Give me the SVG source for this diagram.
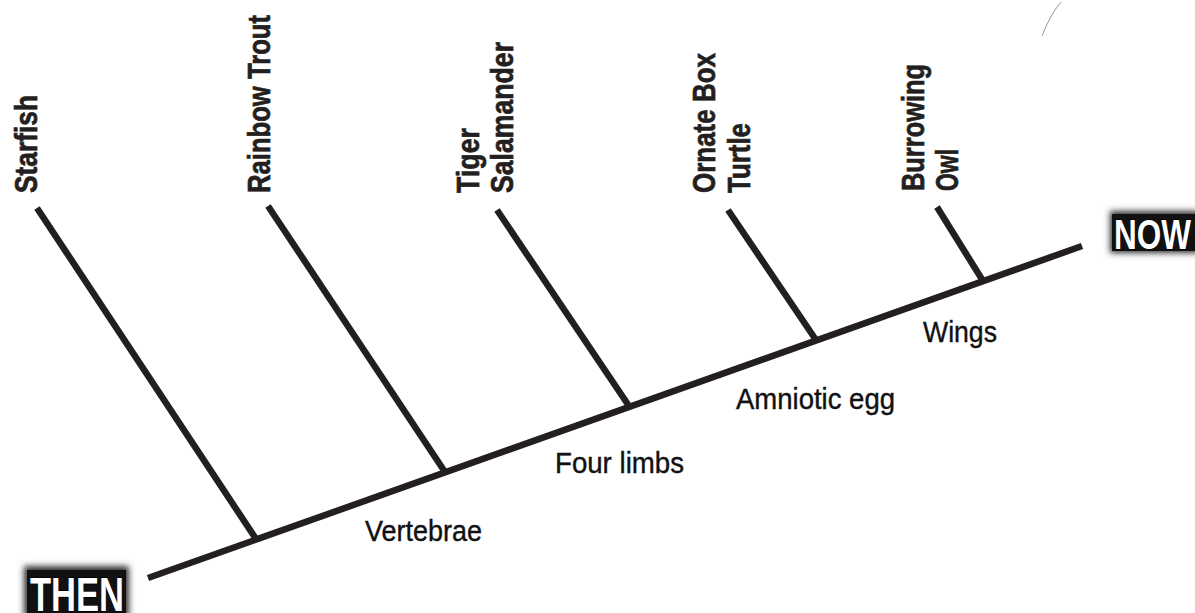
<svg xmlns="http://www.w3.org/2000/svg" width="1195" height="613" viewBox="0 0 1195 613">
<defs>
<style>
.ln{stroke:#231f20;stroke-width:6.5;fill:none;stroke-linecap:butt}
.sp{font-family:"Liberation Sans",Arial,sans-serif;font-weight:bold;font-size:32px;fill:#231f20;stroke:#231f20;stroke-width:0.7}
.tr{font-family:"Liberation Sans",Arial,sans-serif;font-size:29px;fill:#111;stroke:#111;stroke-width:0.4}
.tag{font-family:"Liberation Sans",Arial,sans-serif;font-weight:bold;fill:#fff;stroke:#000;stroke-width:1.5;paint-order:stroke}
</style>
<filter id="blur" x="-20%" y="-40%" width="140%" height="180%"><feGaussianBlur stdDeviation="3"/></filter>
</defs>
<rect width="1195" height="613" fill="#fff"/>
<g id="connectors">
<line class="ln" x1="148" y1="578" x2="1082" y2="246"/>
<line class="ln" x1="37" y1="208" x2="256" y2="539"/>
<line class="ln" x1="268" y1="206" x2="445" y2="472"/>
<line class="ln" x1="497" y1="210" x2="629" y2="406"/>
<line class="ln" x1="728" y1="210" x2="816" y2="340"/>
<line class="ln" x1="937" y1="207" x2="983" y2="281"/>
<path d="M1061 2 Q1050 15 1042 36" stroke="#999" stroke-width="1" fill="none"/>
</g>
<g id="starfish"><text class="sp" transform="translate(37,193) rotate(-90)" textLength="98" lengthAdjust="spacingAndGlyphs">Starfish</text></g>
<g id="rainbow-trout"><text class="sp" transform="translate(270,193) rotate(-90)" textLength="178" lengthAdjust="spacingAndGlyphs">Rainbow Trout</text></g>
<g id="tiger-salamander">
<text class="sp" transform="translate(479,193) rotate(-90)" textLength="65" lengthAdjust="spacingAndGlyphs">Tiger</text>
<text class="sp" transform="translate(513,193) rotate(-90)" textLength="151" lengthAdjust="spacingAndGlyphs">Salamander</text>
</g>
<g id="ornate-box-turtle">
<text class="sp" transform="translate(715,193) rotate(-90)" textLength="140" lengthAdjust="spacingAndGlyphs">Ornate Box</text>
<text class="sp" transform="translate(750,193) rotate(-90)" textLength="70" lengthAdjust="spacingAndGlyphs">Turtle</text>
</g>
<g id="burrowing-owl">
<text class="sp" transform="translate(924,191) rotate(-90)" textLength="127" lengthAdjust="spacingAndGlyphs">Burrowing</text>
<text class="sp" transform="translate(958,191) rotate(-90)" textLength="42" lengthAdjust="spacingAndGlyphs">Owl</text>
</g>
<g id="vertebrae"><text class="tr" x="365" y="541" textLength="117" lengthAdjust="spacingAndGlyphs">Vertebrae</text></g>
<g id="four-limbs"><text class="tr" x="555" y="473" textLength="129" lengthAdjust="spacingAndGlyphs">Four limbs</text></g>
<g id="amniotic-egg"><text class="tr" x="736" y="409" textLength="159" lengthAdjust="spacingAndGlyphs">Amniotic egg</text></g>
<g id="wings"><text class="tr" x="923" y="342" textLength="74" lengthAdjust="spacingAndGlyphs">Wings</text></g>
<g id="now">
<rect x="1110" y="211" width="90" height="42" fill="#333" filter="url(#blur)"/>
<rect x="1112" y="214" width="90" height="37" fill="#111"/>
<text class="tag" x="1114" y="249" font-size="43" textLength="77" lengthAdjust="spacingAndGlyphs">NOW</text>
</g>
<g id="then">
<rect x="24" y="566" width="105" height="52" fill="#333" filter="url(#blur)"/>
<rect x="27" y="570" width="99" height="48" fill="#111"/>
<text class="tag" x="30" y="611" font-size="49" textLength="94" lengthAdjust="spacingAndGlyphs">THEN</text>
</g>
</svg>
